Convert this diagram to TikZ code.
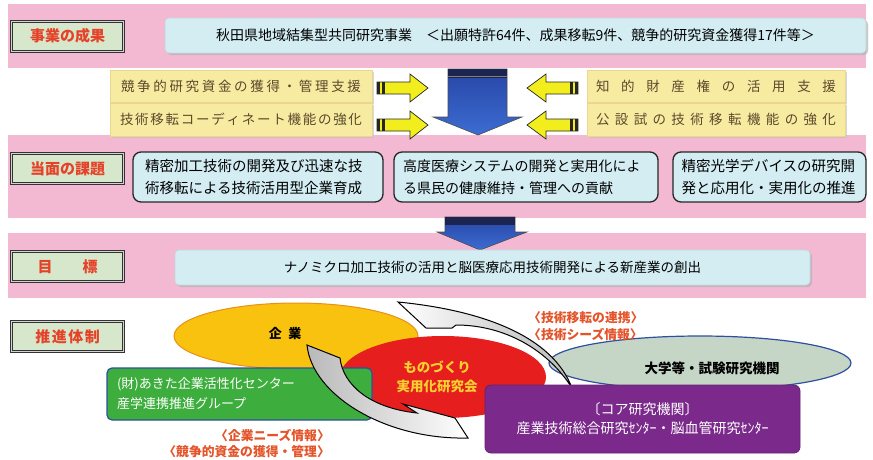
\documentclass[tikz,border=0pt]{standalone}
\usepackage{fontspec}
\setmainfont{Noto Sans CJK JP}
\usetikzlibrary{shapes.geometric,shadows}
\definecolor{bandpink}{HTML}{F3B9D3}
\definecolor{labelfill}{HTML}{D7E7CB}
\definecolor{labeltext}{HTML}{E4432A}
\definecolor{cyanfill}{HTML}{D3EDF3}
\definecolor{yfill}{HTML}{F7EBA2}
\definecolor{ytext}{HTML}{5A4A2A}
\definecolor{arrowyellow}{HTML}{F2EE1E}
\definecolor{bluetop}{HTML}{2746A6}
\definecolor{bluebot}{HTML}{3C6CD2}
\definecolor{blueband}{HTML}{1B2550}
\definecolor{entyellow}{HTML}{F8C20E}
\definecolor{entorange}{HTML}{E8901C}
\definecolor{monored}{HTML}{E61E1E}
\definecolor{monotext}{HTML}{F8D030}
\definecolor{akitagreen}{HTML}{3DAE3D}
\definecolor{edgeblue}{HTML}{2F4FA0}
\definecolor{univgray}{HTML}{C6D6C6}
\definecolor{corepurple}{HTML}{7B2A8C}
\definecolor{orangetext}{HTML}{E4542A}
\ExplSyntaxOn
\NewDocumentCommand\spreadtext{mm}{\makebox[#1][s]{\tl_map_inline:nn{#2}{##1\hfil}\unskip}}
\ExplSyntaxOff
\begin{document}
\begin{tikzpicture}[x=1pt,y=-1pt,
  labelbox/.style={draw=black!80, line width=1pt, double=gray!35, double distance=1pt,
    fill=labelfill, minimum width=112pt, minimum height=30pt, inner sep=0pt,
    text=labeltext, font=\fontsize{15}{18}\selectfont\bfseries},
  cyanbox/.style={fill=cyanfill, draw=cyanfill!80!gray, line width=0.6pt, rounded corners=4pt,
    drop shadow={shadow xshift=2pt, shadow yshift=-2pt, fill=gray!60, opacity=0.7}},
  ybox/.style={fill=yfill, draw=yfill!80!brown, line width=0.6pt, inner sep=0pt,
    text=ytext, font=\fontsize{13.5}{16}\selectfont,
    drop shadow={shadow xshift=1.5pt, shadow yshift=-1.5pt, fill=gray!50, opacity=0.6}},
  tbox/.style={fill=cyanfill, draw=black!85, line width=1.3pt, rounded corners=8pt,
    minimum height=50pt, align=left, font=\fontsize{14.5}{22}\selectfont},
  yarrow/.style={fill=arrowyellow, draw=black!85, line width=0.7pt},
  barrow/.style={top color=bluetop, bottom color=bluebot, draw=black!70, line width=0.6pt},
  carrow/.style={draw=black, line width=1pt},
  olabel/.style={inner sep=0pt, text=orangetext, font=\fontsize{12.8}{15}\selectfont\bfseries}
]
\useasboundingbox (0,0) rectangle (873,459);
\fill[white] (0,0) rectangle (873,459);
% pink bands
\fill[bandpink] (8,4) rectangle (866,68);
\fill[bandpink] (8,135) rectangle (866,218);
\fill[bandpink] (8,233) rectangle (866,298);

% row 1
\node[labelbox] (l1) at (67.5,36) {事業の成果};
\node[cyanbox, minimum width=701pt, minimum height=35pt, font=\fontsize{14}{17}\selectfont] (res) at (515.5,35.5)
  {秋田県地域結集型共同研究事業　＜出願特許64件、成果移転9件、競争的研究資金獲得17件等＞};

% yellow support boxes
\node[ybox, minimum width=262pt, minimum height=32pt] (y1) at (241,86) {\spreadtext{240pt}{競争的研究資金の獲得・管理支援}};
\node[ybox, minimum width=262pt, minimum height=33pt] (y2) at (241,119.5) {\spreadtext{242pt}{技術移転コーディネート機能の強化}};
\node[ybox, minimum width=258pt, minimum height=32pt] (y3) at (716,86) {\spreadtext{240pt}{知的財産権の活用支援}};
\node[ybox, minimum width=258pt, minimum height=33pt] (y4) at (716,119.5) {\spreadtext{240pt}{公設試の技術移転機能の強化}};

% yellow striped arrows
\foreach \cy in {88,125}{
  \draw[yarrow] (377,\cy-6) -- (410,\cy-6) -- (410,\cy-14) -- (428,\cy) -- (410,\cy+14) -- (410,\cy+6) -- (377,\cy+6) -- cycle;
  \fill[black!85] (377,\cy-6) rectangle (380,\cy+6);
  \fill[black!85] (382,\cy-6) rectangle (385,\cy+6);
  \draw[yarrow] (578,\cy-6) -- (546,\cy-6) -- (546,\cy-14) -- (527,\cy) -- (546,\cy+14) -- (546,\cy+6) -- (578,\cy+6) -- cycle;
  \fill[black!85] (575,\cy-6) rectangle (578,\cy+6);
  \fill[black!85] (570,\cy-6) rectangle (573,\cy+6);
}

% blue block arrow 1
\draw[barrow] (448,69) -- (507,69) -- (507,117) -- (522,117) -- (478,135) -- (433,117) -- (448,117) -- cycle;
\fill[blueband] (448,69) rectangle (507,78);
\draw[black!50, line width=0.4pt] (448,76) -- (507,76);

% row 2
\node[labelbox] (l2) at (67.5,168.5) {当面の課題};
\node[tbox, minimum width=250pt, text width=226pt] (t1) at (258,177)
  {精密加工技術の開発及び迅速な技\\術移転による技術活用型企業育成};
\node[tbox, minimum width=264pt, text width=246pt, font=\fontsize{14}{22}\selectfont] (t2) at (526,177)
  {高度医療システムの開発と実用化によ\\る県民の健康維持・管理への貢献};
\node[tbox, minimum width=193pt, text width=176pt] (t3) at (769.5,177)
  {精密光学デバイスの研究開\\発と応用化・実用化の推進};

% blue block arrow 2
\draw[barrow] (445,217) -- (515,217) -- (515,232) -- (527,232) -- (480,250) -- (437,232) -- (445,232) -- cycle;
\fill[blueband] (445,217) rectangle (515,225);

% row 3
\node[labelbox] (l3) at (67.5,266.5) {目\hspace{2em}標};
\node[cyanbox, minimum width=635pt, minimum height=35pt, font=\fontsize{13.5}{16}\selectfont] (goal) at (492.5,267.5)
  {ナノミクロ加工技術の活用と脳医療応用技術開発による新産業の創出};

% row 4
\node[labelbox] (l4) at (67.5,336.5) {推\hspace{0.1em}進\hspace{0.1em}体\hspace{0.1em}制};

\node[ellipse, fill=entyellow, draw=entorange, line width=1pt, minimum width=244pt, minimum height=66pt] (ent) at (296,336) {};
\node[font=\fontsize{13}{15}\selectfont\bfseries] (entt) at (285,334) {企\hspace{0.5em}業};

\node[ellipse, fill=monored, minimum width=206pt, minimum height=82pt] (mono) at (443,377) {};
\node[align=center, text=monotext, font=\fontsize{13.5}{19}\selectfont\bfseries] (monot) at (437,377) {ものづくり\\実用化研究会};

\node[rectangle, rounded corners=5pt, fill=akitagreen, draw=edgeblue, line width=1.2pt,
  minimum width=265pt, minimum height=52pt, text width=245pt, align=left, text=white,
  font=\fontsize{13}{20}\selectfont] (akita) at (239.5,394)
  {(財)あきた企業活性化センター\\産学連携推進グループ};

\node[ellipse, fill=univgray, draw=edgeblue, line width=1.2pt, minimum width=302pt, minimum height=54pt] (univ) at (700,363) {};
\node[font=\fontsize{13.5}{16}\selectfont\bfseries] (univt) at (712,368) {大学等・試験研究機関};

% curved exchange arrows
\draw[carrow, left color=white, right color=gray!55] (398,302) .. controls (480,310) and (552,335) .. (572,388)
  .. controls (548,350) and (505,325) .. (456,325) -- (452,328) -- (426,328) -- cycle;
\draw[carrow, left color=gray!55, right color=white] (307,345) .. controls (312,395) and (385,440) .. (468,438)
  -- (455,418) -- (403,404) -- (417,413) .. controls (370,408) and (343,385) .. (340,358) -- cycle;

\node[rectangle, rounded corners=6pt, fill=corepurple, draw=corepurple!80!black, line width=0.8pt,
  minimum width=315pt, minimum height=68pt, align=center, text=white,
  font=\fontsize{14}{19}\selectfont] (core) at (642.5,419)
  {〔コア研究機関〕\\産業技術総合研究ｾﾝﾀｰ・脳血管研究ｾﾝﾀｰ};

% orange labels
\node[olabel, anchor=west] (tt1) at (528,318) {〈技術移転の連携〉};
\node[olabel, anchor=west] (tt2) at (528,334) {〈技術シーズ情報〉};
\node[olabel, anchor=east] (en1) at (330,435) {〈企業ニーズ情報〉};
\node[olabel, anchor=east] (en2) at (330,452) {〈競争的資金の獲得・管理〉};
\end{tikzpicture}
\end{document}
